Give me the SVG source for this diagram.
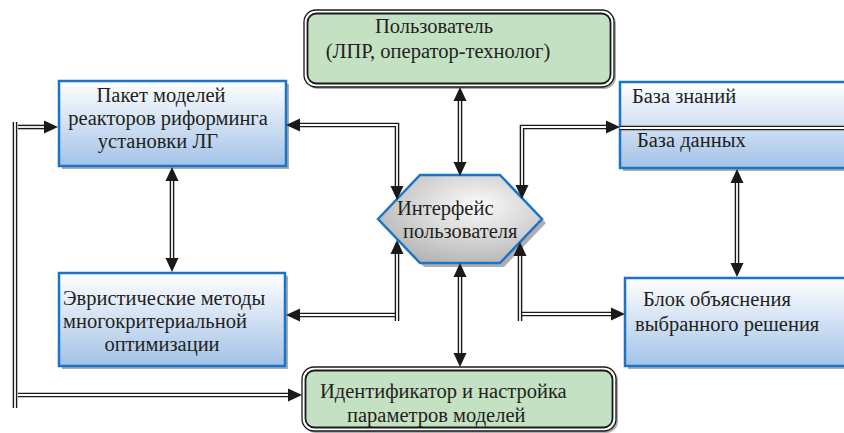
<svg xmlns="http://www.w3.org/2000/svg" width="844" height="433" viewBox="0 0 844 433">
<style>
.t{font-family:"Liberation Serif","Times New Roman",serif;font-size:20.5px;fill:#231f20}
.m{text-anchor:middle}
.box{stroke:#1b75c4;stroke-width:2.5;fill:url(#gb)}
.sh{fill:#9a9a9a;opacity:0.8}
.go{fill:#ffffff;stroke:#1a1a1a;stroke-width:1.3}
.gi{fill:#c4e1c3;stroke:#1a1a1a;stroke-width:1.8}
.dk{fill:none;stroke:#1a1a1a;stroke-width:4.6;stroke-linejoin:miter}
.dw{fill:none;stroke:#ffffff;stroke-width:1.8;stroke-linejoin:miter}
.ah{fill:#1a1a1a}
</style>
<defs>
<linearGradient id="gb" x1="0" y1="0" x2="0" y2="1">
<stop offset="0" stop-color="#ffffff"/>
<stop offset="1" stop-color="#a3c2e7"/>
</linearGradient>
<radialGradient id="gh" cx="0.6" cy="0.35" r="0.7">
<stop offset="0" stop-color="#fbfbfb"/>
<stop offset="1" stop-color="#b4b4b4"/>
</radialGradient>
<path id="ah" d="M0,0 L-14,-6.5 L-14,6.5 Z"/>
</defs>

<g id="user">
<rect x="306" y="12" width="310" height="77" rx="12" class="sh" opacity="0.4"/>
<rect x="304" y="10" width="310" height="77" rx="12" class="go"/>
<rect x="307.5" y="13.5" width="303" height="70" rx="9" class="gi"/>
<text class="t m" x="434" y="33">Пользователь</text>
<text class="t m" x="438" y="58">(ЛПР, оператор-технолог)</text>
</g>

<g id="models">
<rect x="62" y="84" width="227" height="85" class="sh"/>
<rect x="59" y="81" width="227" height="85" class="box"/>
<text class="t m" x="161" y="102">Пакет моделей</text>
<text class="t m" x="168" y="125">реакторов риформинга</text>
<text class="t m" x="158" y="148">установки ЛГ</text>
</g>

<g id="kb">
<rect x="623" y="85" width="230" height="86" class="sh"/>
<rect x="620" y="82" width="230" height="86" class="box"/>
<text class="t" x="632" y="103">База знаний</text>
<text class="t" x="637" y="147">База данных</text>
</g>

<g id="heur">
<rect x="62" y="276" width="226" height="93" class="sh"/>
<rect x="59" y="273" width="226" height="93" class="box"/>
<text class="t" x="63" y="305">Эвристические методы</text>
<text class="t" x="63" y="328">многокритериальной</text>
<text class="t m" x="162" y="351">оптимизации</text>
</g>

<g id="explain">
<rect x="628" y="281" width="225" height="88" class="sh"/>
<rect x="625" y="278" width="225" height="88" class="box"/>
<text class="t" x="643" y="306">Блок объяснения</text>
<text class="t" x="635" y="331">выбранного решения</text>
</g>

<g id="interface">
<polygon points="382,223 424,179 504,179 546,223 504,267 424,267" fill="#8c8c8c" opacity="0.7"/>
<polygon points="378,219 420,175 500,175 542,219 500,263 420,263" fill="url(#gh)" stroke="#1b75c4" stroke-width="2.5"/>
<text class="t" x="397" y="215">Интерфейс</text>
<text class="t" x="403" y="238">пользователя</text>
</g>

<g id="ident">
<rect x="304" y="369" width="314" height="64" rx="12" class="sh" opacity="0.4"/>
<rect x="302" y="367" width="314" height="64" rx="12" class="go"/>
<rect x="305.5" y="370.5" width="307" height="57" rx="9" class="gi"/>
<text class="t" x="320" y="398">Идентификатор и настройка</text>
<text class="t" x="347" y="422">параметров моделей</text>
</g>

<g id="connectors">
<path class="dk" d="M620,128 H844"/>
<path class="dw" d="M620,128 H844"/>
<path class="dk" d="M460,100 V163"/>
<path class="dw" d="M460,100 V163"/>
<use href="#ah" class="ah" transform="translate(460,87) rotate(-90)"/>
<use href="#ah" class="ah" transform="translate(460,176) rotate(90)"/>
<path class="dk" d="M299,125 H397 V187"/>
<path class="dw" d="M299,125 H397 V187"/>
<use href="#ah" class="ah" transform="translate(286,125) rotate(180)"/>
<use href="#ah" class="ah" transform="translate(397,200) rotate(90)"/>
<path class="dk" d="M607,127 H522 V186"/>
<path class="dw" d="M607,127 H522 V186"/>
<use href="#ah" class="ah" transform="translate(620,127)"/>
<use href="#ah" class="ah" transform="translate(522,199) rotate(90)"/>
<path class="dk" d="M299,315 H396"/>
<path class="dw" d="M299,315 H396"/>
<path class="dk" d="M397,321 V253"/>
<path class="dw" d="M397,321 V253"/>
<use href="#ah" class="ah" transform="translate(286,315) rotate(180)"/>
<use href="#ah" class="ah" transform="translate(397,240) rotate(-90)"/>
<path class="dk" d="M521,314 H612"/>
<path class="dw" d="M521,314 H612"/>
<path class="dk" d="M520,321 V255"/>
<path class="dw" d="M520,321 V255"/>
<use href="#ah" class="ah" transform="translate(625,314)"/>
<use href="#ah" class="ah" transform="translate(520,242) rotate(-90)"/>
<path class="dk" d="M460,276 V354"/>
<path class="dw" d="M460,276 V354"/>
<use href="#ah" class="ah" transform="translate(460,263) rotate(-90)"/>
<use href="#ah" class="ah" transform="translate(460,367) rotate(90)"/>
<path class="dk" d="M172,180 V259"/>
<path class="dw" d="M172,180 V259"/>
<use href="#ah" class="ah" transform="translate(172,167) rotate(-90)"/>
<use href="#ah" class="ah" transform="translate(172,272) rotate(90)"/>
<path class="dk" d="M737,182 V264"/>
<path class="dw" d="M737,182 V264"/>
<use href="#ah" class="ah" transform="translate(737,169) rotate(-90)"/>
<use href="#ah" class="ah" transform="translate(737,277) rotate(90)"/>
<path class="dk" d="M15,122 V408"/>
<path class="dw" d="M15,122 V408"/>
<path class="dk" d="M18,127 H45"/>
<path class="dw" d="M18,127 H45"/>
<use href="#ah" class="ah" transform="translate(58,127)"/>
<path class="dk" d="M18,395 H289"/>
<path class="dw" d="M18,395 H289"/>
<use href="#ah" class="ah" transform="translate(302,395)"/>
</g>
</svg>
